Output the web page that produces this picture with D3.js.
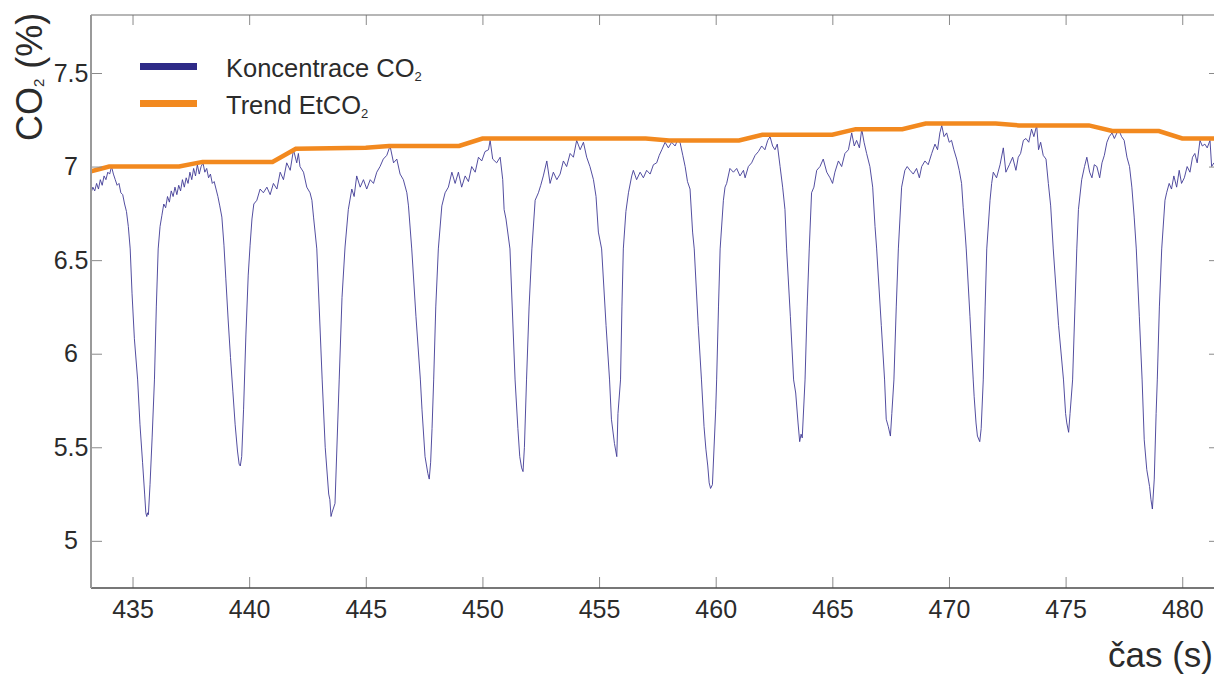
<!DOCTYPE html>
<html><head><meta charset="utf-8">
<script src="https://cdn.jsdelivr.net/npm/d3@7"></script>
<style>
body{margin:0;background:#fff}
text{font-family:"Liberation Sans",Arial,Helvetica,sans-serif;fill:#2b2b2b}
</style></head>
<body><svg id="chart" width="1214" height="678"></svg>
<script>
// ---- data ----
const xTicks = [435, 440, 445, 450, 455, 460, 465, 470, 475, 480];
const yTicks = [5, 5.5, 6, 6.5, 7, 7.5];
const yTickLabels = ["5", "5.5", "6", "6.5", "7", "7.5"];
const xDomain = [433.22, 481.49];
const yDomain = [4.748, 7.81];

const timeS = [
433.22,433.30,433.38,433.46,433.54,433.62,433.70,433.78,433.86,433.94,434.02,434.10,434.18,434.26,434.34,434.42,434.50,434.58,434.66,434.74,
434.82,434.90,434.98,435.08,435.22,435.32,435.43,435.52,435.57,435.61,435.65,435.68,435.75,435.84,435.94,436.02,436.10,436.18,436.26,436.34,
436.42,436.50,436.58,436.66,436.74,436.82,436.90,436.98,437.06,437.14,437.22,437.30,437.38,437.46,437.54,437.62,437.70,437.78,437.86,437.94,
438.02,438.10,438.18,438.26,438.34,438.42,438.50,438.58,438.66,438.74,438.83,438.92,439.00,439.10,439.20,439.30,439.40,439.50,439.57,439.62,
439.68,439.76,439.86,439.96,440.04,440.12,440.20,440.33,440.47,440.61,440.76,440.90,441.04,441.19,441.33,441.47,441.61,441.76,441.90,442.04,
442.11,442.18,442.33,442.47,442.61,442.69,442.76,442.90,443.13,443.26,443.41,443.46,443.51,443.55,443.68,443.86,443.98,444.11,444.25,444.40,
444.50,444.61,444.76,444.90,445.04,445.19,445.33,445.47,445.61,445.75,445.90,446.04,446.19,446.33,446.47,446.61,446.76,446.83,446.97,447.15,
447.34,447.41,447.54,447.66,447.72,447.78,447.84,447.91,448.00,448.11,448.26,448.40,448.54,448.69,448.83,448.97,449.11,449.26,449.40,449.54,
449.69,449.83,449.97,450.11,450.26,450.33,450.44,450.61,450.76,450.87,450.93,451.01,451.18,451.40,451.52,451.60,451.68,451.74,451.80,451.89,
452.00,452.12,452.26,452.40,452.50,452.61,452.76,452.90,453.04,453.19,453.33,453.47,453.61,453.76,453.90,454.04,454.19,454.33,454.47,454.61,
454.76,454.87,454.97,455.11,455.30,455.45,455.53,455.66,455.76,455.81,455.92,455.98,456.04,456.15,456.26,456.40,456.47,456.61,456.76,456.90,
457.04,457.19,457.33,457.47,457.58,457.69,457.83,457.97,458.11,458.26,458.36,458.47,458.59,458.69,458.79,458.90,459.01,459.08,459.25,459.39,
459.50,459.58,459.66,459.72,459.78,459.86,460.00,460.04,460.12,460.19,460.33,460.40,460.47,460.61,460.76,460.90,461.04,461.19,461.26,461.40,
461.54,461.69,461.83,461.97,462.11,462.23,462.33,462.44,462.54,462.64,462.76,462.87,462.97,463.04,463.20,463.34,463.43,463.53,463.60,463.66,
463.71,463.83,463.92,464.01,464.11,464.21,464.33,464.47,464.61,464.76,464.90,465.01,465.11,465.26,465.40,465.54,465.69,465.83,465.94,466.04,
466.16,466.26,466.36,466.47,466.61,466.73,466.83,466.90,467.10,467.24,467.31,467.40,467.49,467.55,467.64,467.74,467.83,467.97,468.11,468.21,
468.33,468.47,468.61,468.73,468.83,468.97,469.11,469.26,469.40,469.51,469.61,469.69,469.79,469.90,470.01,470.11,470.21,470.33,470.44,470.54,
470.61,470.69,470.74,470.90,471.04,471.08,471.16,471.22,471.32,471.38,471.47,471.55,471.62,471.76,471.83,471.90,472.04,472.19,472.33,472.44,
472.59,472.73,472.87,472.97,473.07,473.19,473.30,473.42,473.54,473.64,473.76,473.84,473.93,474.04,474.16,474.26,474.36,474.47,474.70,474.91,
475.00,475.05,475.13,475.19,475.30,475.40,475.48,475.55,475.69,475.81,475.91,476.03,476.13,476.23,476.34,476.46,476.56,476.66,476.77,476.87,
476.99,477.09,477.20,477.30,477.40,477.51,477.63,477.74,477.84,477.94,478.03,478.16,478.28,478.37,478.48,478.60,478.66,478.72,478.80,478.88,
478.93,479.02,479.12,479.26,479.33,479.44,479.54,479.64,479.76,479.87,479.97,480.09,480.21,480.33,480.44,480.54,480.64,480.76,480.86,480.97,
481.07,481.19,481.26,481.36
];
const co2Pct = [
6.86,6.89,6.87,6.91,6.88,6.93,6.90,6.95,6.93,6.97,6.96,7.00,6.96,6.93,6.90,6.91,6.86,6.85,6.80,6.76,
6.68,6.56,6.32,6.08,5.86,5.62,5.42,5.25,5.15,5.13,5.15,5.14,5.30,5.55,5.86,6.25,6.56,6.68,6.74,6.80,
6.78,6.84,6.81,6.87,6.84,6.89,6.85,6.90,6.87,6.93,6.89,6.94,6.91,6.97,6.93,6.99,6.95,7.01,6.96,7.00,
7.02,6.97,6.99,6.94,6.96,6.91,6.92,6.88,6.84,6.79,6.73,6.58,6.40,6.18,5.98,5.80,5.62,5.48,5.41,5.40,
5.45,5.70,6.10,6.42,6.58,6.72,6.80,6.82,6.88,6.86,6.89,6.85,6.91,6.88,6.97,6.93,7.02,6.98,7.09,7.02,
7.07,7.00,6.97,6.89,6.86,6.82,6.73,6.56,5.86,5.50,5.25,5.22,5.13,5.15,5.20,5.86,6.30,6.57,6.77,6.88,
6.84,6.95,6.89,6.93,6.88,6.93,6.91,6.97,7.00,7.04,7.06,7.11,7.02,7.04,6.96,6.93,6.86,6.79,6.56,6.20,
5.86,5.70,5.45,5.36,5.33,5.42,5.60,5.86,6.25,6.56,6.79,6.86,6.89,6.97,6.91,6.97,6.89,6.95,6.92,7.00,
6.97,7.05,7.03,7.08,7.09,7.14,7.04,7.02,7.05,6.93,6.77,6.72,6.56,5.86,5.60,5.45,5.39,5.37,5.50,5.86,
6.25,6.56,6.82,6.86,6.90,6.95,7.03,6.91,6.97,6.93,6.96,7.03,7.00,7.07,7.05,7.14,7.09,7.13,7.05,7.00,
6.93,6.84,6.65,6.56,6.15,5.86,5.65,5.52,5.45,5.68,5.86,6.25,6.56,6.76,6.86,6.95,6.98,6.93,6.97,6.94,
6.98,6.96,7.01,7.02,7.06,7.09,7.13,7.10,7.13,7.11,7.14,7.13,7.06,7.00,6.92,6.88,6.65,6.56,6.15,5.86,
5.61,5.49,5.40,5.31,5.28,5.30,5.70,5.86,6.25,6.56,6.82,6.89,6.91,6.99,6.97,6.99,6.95,6.98,6.94,7.00,
7.02,7.06,7.08,7.11,7.09,7.14,7.16,7.11,7.09,7.12,7.00,6.89,6.77,6.56,6.20,5.86,5.79,5.63,5.53,5.57,
5.55,5.86,6.25,6.56,6.86,6.89,6.98,7.00,7.04,6.97,6.94,6.91,6.97,7.03,7.00,7.07,7.09,7.18,7.11,7.14,
7.10,7.20,7.13,7.07,7.00,6.89,6.68,6.56,6.15,5.86,5.65,5.61,5.56,5.68,5.86,6.25,6.56,6.89,6.98,7.00,
6.98,6.96,6.99,6.94,7.00,7.03,7.01,7.07,7.12,7.09,7.18,7.22,7.16,7.18,7.13,7.14,7.09,7.04,6.98,6.91,
6.78,6.65,6.56,6.20,5.86,5.77,5.63,5.56,5.53,5.60,5.86,6.25,6.56,6.82,6.91,6.97,6.94,7.01,7.10,6.97,
7.01,7.05,6.98,7.05,7.07,7.14,7.15,7.13,7.20,7.16,7.22,7.09,7.13,7.06,7.04,6.91,6.79,6.56,6.15,5.86,
5.68,5.63,5.58,5.68,5.86,6.25,6.56,6.77,6.93,7.00,7.05,6.97,6.94,7.01,7.00,6.94,7.02,7.06,7.13,7.16,
7.18,7.15,7.18,7.19,7.16,7.14,7.05,7.00,6.89,6.73,6.56,6.20,5.86,5.54,5.38,5.29,5.22,5.17,5.33,5.68,
5.86,6.25,6.56,6.82,6.86,6.91,6.88,6.95,6.89,6.98,6.91,6.94,7.00,6.97,7.05,7.07,7.02,7.14,7.11,7.12,
7.10,7.14,7.00,7.02
];

const trendTime = [433.22,434,437,438,441,442,445,446,449,450,457,458,461,462,465,466,468,469,472,473,476,477,479,480,481.49];
const trendPct  = [6.975,7.00,7.00,7.025,7.025,7.095,7.10,7.11,7.11,7.15,7.15,7.14,7.14,7.17,7.17,7.20,7.20,7.23,7.23,7.22,7.22,7.19,7.19,7.15,7.15];

const legendNames = ["Koncentrace CO", "Trend EtCO"];
const legendColors = ["#2e2a87", "#f2891f"];

// ---- layout ----
const L = 91, R = 1217, T = 15, B = 588;
const svg = d3.select("#chart");
const x = d3.scaleLinear().domain(xDomain).range([L, R]);
const y = d3.scaleLinear().domain(yDomain).range([B, T]);

svg.append("defs").append("clipPath").attr("id","clip")
  .append("rect").attr("x",L).attr("y",T).attr("width",R-L).attr("height",B-T);

// series
const wave = timeS.map((t,i)=>[t, co2Pct[i]]);
const trend = trendTime.map((t,i)=>[t, trendPct[i]]);
const line = d3.line().x(d=>x(d[0])).y(d=>y(d[1]));

svg.append("path").datum(wave).attr("clip-path","url(#clip)")
  .attr("d",line).attr("fill","none").attr("stroke","#3f3a95").attr("stroke-width",0.9)
  .attr("stroke-linejoin","round");
svg.append("path").datum(trend).attr("clip-path","url(#clip)")
  .attr("d",line).attr("fill","none").attr("stroke",legendColors[1]).attr("stroke-width",4.5);

// axes
const gx = svg.append("g").attr("transform",`translate(0,${B})`)
  .call(d3.axisBottom(x).tickValues(xTicks).tickSize(-11).tickPadding(12).tickFormat(d3.format("d")));
gx.select(".domain").remove();
gx.selectAll(".tick line").attr("stroke","#8a8a8a");
gx.selectAll("text").style("font-size","25px").attr("fill","#2b2b2b");

const gt = svg.append("g").attr("transform",`translate(0,${T})`)
  .call(d3.axisTop(x).tickValues(xTicks).tickSize(-10).tickFormat(""));
gt.select(".domain").remove();
gt.selectAll(".tick line").attr("stroke","#8a8a8a");

const gy = svg.append("g").attr("transform",`translate(${L},0)`)
  .call(d3.axisLeft(y).tickValues(yTicks).tickSize(-11).tickPadding(0).tickFormat((d,i)=>yTickLabels[i]));
gy.select(".domain").remove();
gy.selectAll(".tick line").attr("stroke","#8a8a8a");
gy.selectAll("text").style("font-size","25px").attr("text-anchor","middle").attr("x",-20).attr("fill","#2b2b2b");

const gr = svg.append("g").attr("transform",`translate(${R},0)`)
  .call(d3.axisRight(y).tickValues(yTicks).tickSize(-8).tickFormat(""));
gr.select(".domain").remove();
gr.selectAll(".tick line").attr("stroke","#8a8a8a");

// frame
svg.append("line").attr("x1",L).attr("x2",R).attr("y1",T).attr("y2",T).attr("stroke","#6e6e6e").attr("stroke-width",1.2);
svg.append("line").attr("x1",L).attr("x2",R).attr("y1",B).attr("y2",B).attr("stroke","#4a4a4a").attr("stroke-width",1.6);
svg.append("line").attr("x1",L).attr("x2",L).attr("y1",T).attr("y2",B).attr("stroke","#9a9a9a").attr("stroke-width",2);

// axis titles
const yl = svg.append("text").attr("transform","translate(42,141) rotate(-90)")
  .style("font-size","36px").attr("text-anchor","start");
yl.append("tspan").text("CO");
yl.append("tspan").text("2").style("font-size","15px").attr("dy",2);
yl.append("tspan").text(" (%)").attr("dy",-2);

svg.append("text").attr("x",1213).attr("y",667).attr("text-anchor","end")
  .style("font-size","35px").text("čas (s)");

// legend
const lg = svg.append("g");
legendNames.forEach((name,i)=>{
  const cy = 66.5 + i*37;
  lg.append("line").attr("x1",140).attr("x2",197).attr("y1",cy).attr("y2",cy)
    .attr("stroke",legendColors[i]).attr("stroke-width",7);
  const t = lg.append("text").attr("x",226).attr("y",cy+10).style("font-size","25.5px");
  t.append("tspan").text(name);
  t.append("tspan").text("2").style("font-size","13px").attr("dy",4);
});
</script>
</body></html>
